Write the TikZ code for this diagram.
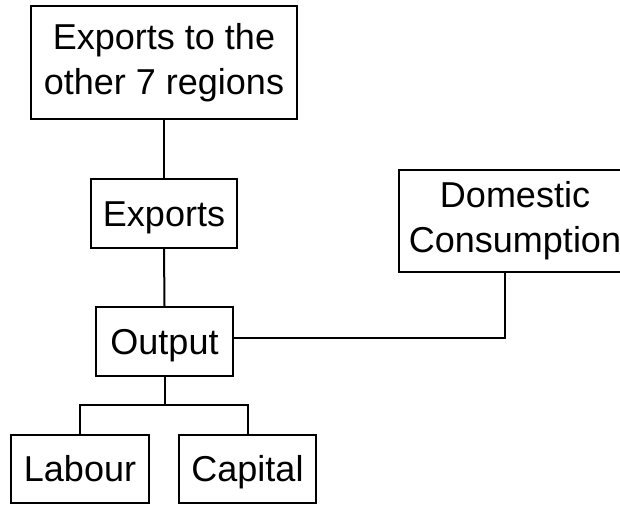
\documentclass[tikz,border=0pt]{standalone}
\usepackage{fontspec}
\setmainfont{Liberation Sans}
\begin{document}
\begin{tikzpicture}[x=1pt,y=-1pt,
  box/.style={draw,line width=2pt,inner sep=0pt,align=center,
    font=\fontsize{36}{45}\selectfont},
  onebox/.style={box,text height=30pt,text depth=5pt},
  link/.style={line width=2pt}]
\useasboundingbox (0,0) rectangle (620,506);
\node[box,minimum width=266pt,minimum height=113pt] (top) at (164,62.5) {Exports to the\\other 7 regions};
\node[onebox,minimum width=146pt,minimum height=69pt] (exp) at (164,213.5) {Exports};
\node[box,minimum width=232pt,minimum height=102pt] (dom) at (515,221) {Domestic\\Consumption};
\node[onebox,minimum width=137pt,minimum height=69pt] (out) at (164.5,341.5) {Output};
\node[onebox,minimum width=138pt,minimum height=68pt] (lab) at (80,469) {Labour};
\node[onebox,minimum width=137pt,minimum height=68pt] (cap) at (247.5,469) {Capital};
\coordinate (j) at (505,338);
\coordinate (t) at (164.5,405);
\draw[link] (top.south) -- (exp.north);
\draw[link] (exp.south) -- (out.north);
\draw[link] (out.east |- j) -- (j) -- (j |- dom.south);
\draw[link] (out.south) -- (t);
\draw[link] (lab.north) -- (lab.north |- t) -- (cap.north |- t) -- (cap.north);
\end{tikzpicture}
\end{document}
